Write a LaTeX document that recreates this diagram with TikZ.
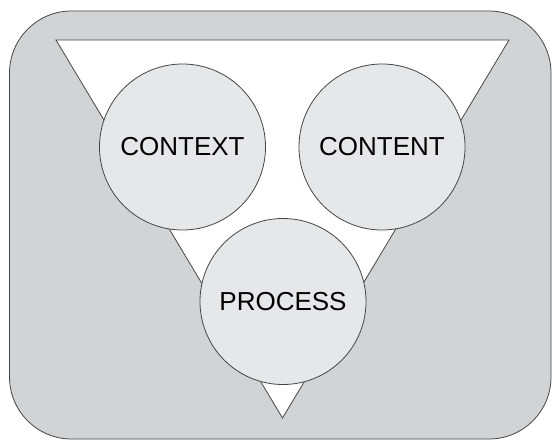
\documentclass[tikz,border=0pt]{standalone}
\usepackage{fontspec}
\setmainfont{Liberation Sans}
\definecolor{bggray}{RGB}{210,211,213}
\definecolor{circgray}{RGB}{230,231,232}
\definecolor{linegray}{RGB}{70,70,70}
\begin{document}
\begin{tikzpicture}[x=1pt,y=-1pt,
  frame/.style={draw=linegray,line width=0.8pt,fill=bggray,rounded corners=62pt},
  tri/.style={draw=linegray,line width=0.8pt,fill=white,line join=miter},
  topic/.style={circle,draw=linegray,line width=0.8pt,fill=circgray,minimum size=166pt,inner sep=0pt,font=\fontsize{26}{30}\selectfont}]
\useasboundingbox (0,0) rectangle (553,441);
\draw[frame] (9.5,11) rectangle (551,439);
\coordinate (tl) at (56,40);
\coordinate (tr) at (509,40);
\coordinate (bt) at (282.5,418);
\draw[tri] (tl) -- (tr) -- (bt) -- cycle;
\node[topic] (context) at (182.5,147) {CONTEXT};
\node[topic] (content) at (382,147) {CONTENT};
\node[topic] (process) at (283,301.5) {PROCESS};
\end{tikzpicture}
\end{document}
